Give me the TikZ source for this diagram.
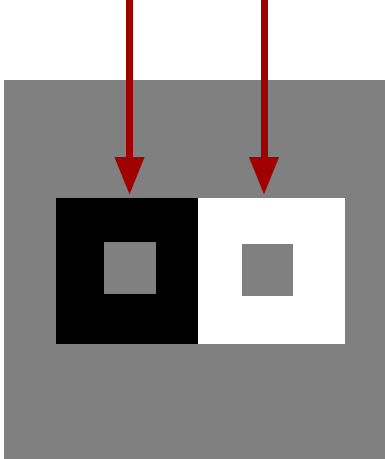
\documentclass[tikz,border=0pt]{standalone}
\usepackage{tikz}
\usetikzlibrary{arrows.meta, positioning}
\usepackage{xcolor}
\definecolor{midgray}{RGB}{128,128,128}
\definecolor{arrowred}{RGB}{160,0,0}
\tikzset{
  basesquare/.style={rectangle, draw=none, inner sep=0pt, outer sep=0pt},
  outersquare/.style={basesquare, minimum height=146pt},
  blacksquare/.style={outersquare, fill=black, minimum width=142pt},
  whitesquare/.style={outersquare, fill=white, minimum width=147pt},
  innersquare/.style={basesquare, fill=midgray, minimum width=52pt, minimum height=52pt},
  downarrow/.style={-{Triangle[length=38pt, width=28pt]}, line width=7pt, color=arrowred}
}
\begin{document}
\begin{tikzpicture}[x=1pt, y=-1pt]
  \useasboundingbox (0,0) rectangle (385,459);
  % background field
  \fill[midgray] (4,80) rectangle (385,459);

  \node[blacksquare, anchor=north west] (blk) at (56,198) {};
  \node[whitesquare, right=0pt of blk] (wht) {};
  \node[innersquare] (ginb) at (130,268) {};
  \node[innersquare, minimum width=51pt] (ginw) at (267.5,270) {};

  % arrows
  \coordinate (topl) at (129.5,0);
  \coordinate (topr) at (264,0);
  \coordinate (tipl) at (129.5,195);
  \coordinate (tipr) at (264,195);
  \draw[downarrow] (topl) -- (tipl);
  \draw[downarrow] (topr) -- (tipr);
\end{tikzpicture}
\end{document}
